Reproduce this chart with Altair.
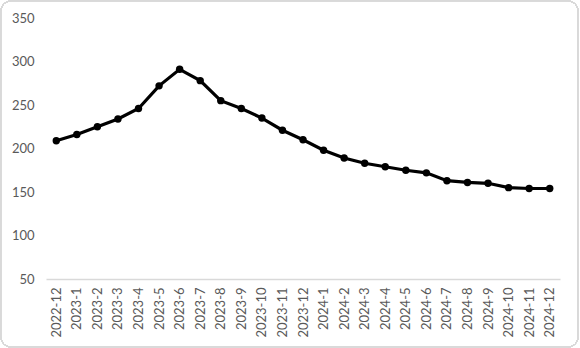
import altair as alt
import pandas as pd

months = ["2022-12", "2023-1", "2023-2", "2023-3", "2023-4", "2023-5", "2023-6",
          "2023-7", "2023-8", "2023-9", "2023-10", "2023-11", "2023-12",
          "2024-1", "2024-2", "2024-3", "2024-4", "2024-5", "2024-6",
          "2024-7", "2024-8", "2024-9", "2024-10", "2024-11", "2024-12"]
values = [209, 216, 225, 234, 246, 272, 291, 278, 255, 246, 235, 221, 210,
          198, 189, 183, 179, 175, 172, 163, 161, 160, 155, 154, 154]

df = pd.DataFrame({"month": months, "value": values})

FONT = "Lato"
GRAY = "#595959"

x = alt.X("month:N", sort=months, title=None,
          scale=alt.Scale(type="point", padding=0.5),
          axis=alt.Axis(labelAngle=-90, labelColor=GRAY, labelFontSize=13,
                        labelFont=FONT, ticks=False, domainColor="#d9d9d9",
                        domainWidth=1.5, labelPadding=8, grid=False,
                        labelBaseline="middle", labelAlign="right"))
y = alt.Y("value:Q", title=None,
          scale=alt.Scale(domain=[50, 350], nice=False, zero=False),
          axis=alt.Axis(values=[50, 100, 150, 200, 250, 300, 350],
                        labelColor=GRAY, labelFontSize=13, labelFont=FONT,
                        ticks=False, domain=False, grid=False, labelPadding=12))

line = alt.Chart(df).mark_line(color="black", strokeWidth=3.2).encode(x=x, y=y)
pts = alt.Chart(df).mark_point(filled=True, color="black", size=55, opacity=1).encode(x=x, y=y)

border = alt.Chart(df).mark_rect(fill=None, stroke="#d9d9d9", strokeWidth=1,
                                 cornerRadius=10).encode(
    x=alt.value(-45), x2=alt.value(532), y=alt.value(-17), y2=alt.value(329))

chart = alt.layer(border, line, pts).properties(
    width=514, height=261,
    autosize=alt.AutoSizeParams(type="none"),
    padding={"left": 46, "top": 18, "right": 20, "bottom": 69},
    background="white",
).configure_view(stroke=None)

chart.save("out.html", embed_options={"renderer": "svg", "actions": False})
